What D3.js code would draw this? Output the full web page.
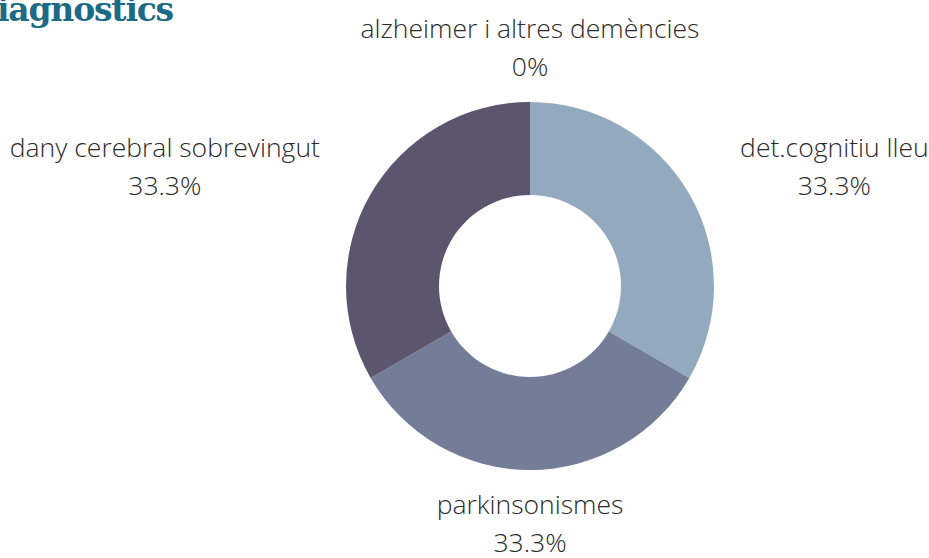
<!DOCTYPE html>
<html>
<head>
<meta charset="utf-8">
<script src="https://cdn.jsdelivr.net/npm/d3@7"></script>
<style>
  html, body { margin: 0; padding: 0; background: #fff; overflow: hidden; }
  svg { display: block; }
</style>
</head>
<body>
<svg id="chart" width="929" height="558"></svg>
<script>
// data
const categories = ["alzheimer i altres demències", "det.cognitiu lleu", "parkinsonismes", "dany cerebral sobrevingut"];
const values = [0, 1, 1, 1];
const percentLabels = ["0%", "33.3%", "33.3%", "33.3%"];
const sliceColors = ["#c2ccd8", "#93a9bd", "#737d98", "#5b566e"];

const width = 929, height = 558;
const cx = 530, cy = 286;
const outerR = 184, innerR = 91, labelR = 238;

const svg = d3.select("#chart");

// title, clipped off at the left edge
svg.append("text")
    .attr("x", 173)
    .attr("y", 21)
    .attr("text-anchor", "end")
    .attr("fill", "#1b6a86")
    .style("font-family", "'DejaVu Serif', serif")
    .style("font-weight", "bold")
    .style("font-size", "33px")
    .style("letter-spacing", "-1.2px")
    .text("Diagnostics");

const pie = d3.pie().sort(null).value(d => d)(values);
const arc = d3.arc().innerRadius(innerR).outerRadius(outerR);

const g = svg.append("g").attr("transform", `translate(${cx},${cy})`);

g.selectAll("path")
    .data(pie)
    .enter()
    .append("path")
    .attr("d", arc)
    .attr("fill", (d, i) => sliceColors[i]);

// labels: two lines, block placed at mid-angle, anchored outward
const labels = g.selectAll("g.label")
    .data(pie)
    .enter()
    .append("g")
    .attr("class", "label");

labels.each(function (d, i) {
    const a = (d.startAngle + d.endAngle) / 2;
    const px = labelR * Math.sin(a);
    const py = -labelR * Math.cos(a);
    const sel = d3.select(this);
    const t1 = sel.append("text").text(categories[i]);
    const t2 = sel.append("text").text(percentLabels[i]);
    sel.selectAll("text")
        .attr("text-anchor", "middle")
        .attr("fill", "#2b2b2b")
        .style("font-family", "'Open Sans', sans-serif")
        .style("font-weight", 300)
        .style("font-size", "26.5px");
    const w = Math.max(t1.node().getComputedTextLength(), t2.node().getComputedTextLength());
    let bx = px;
    if (Math.abs(px) > 1) bx = px > 0 ? px + 4 + w / 2 : px - 4 - w / 2;
    t1.attr("x", bx).attr("y", py - 10);
    t2.attr("x", bx).attr("y", py + 28);
});
</script>
</body>
</html>
